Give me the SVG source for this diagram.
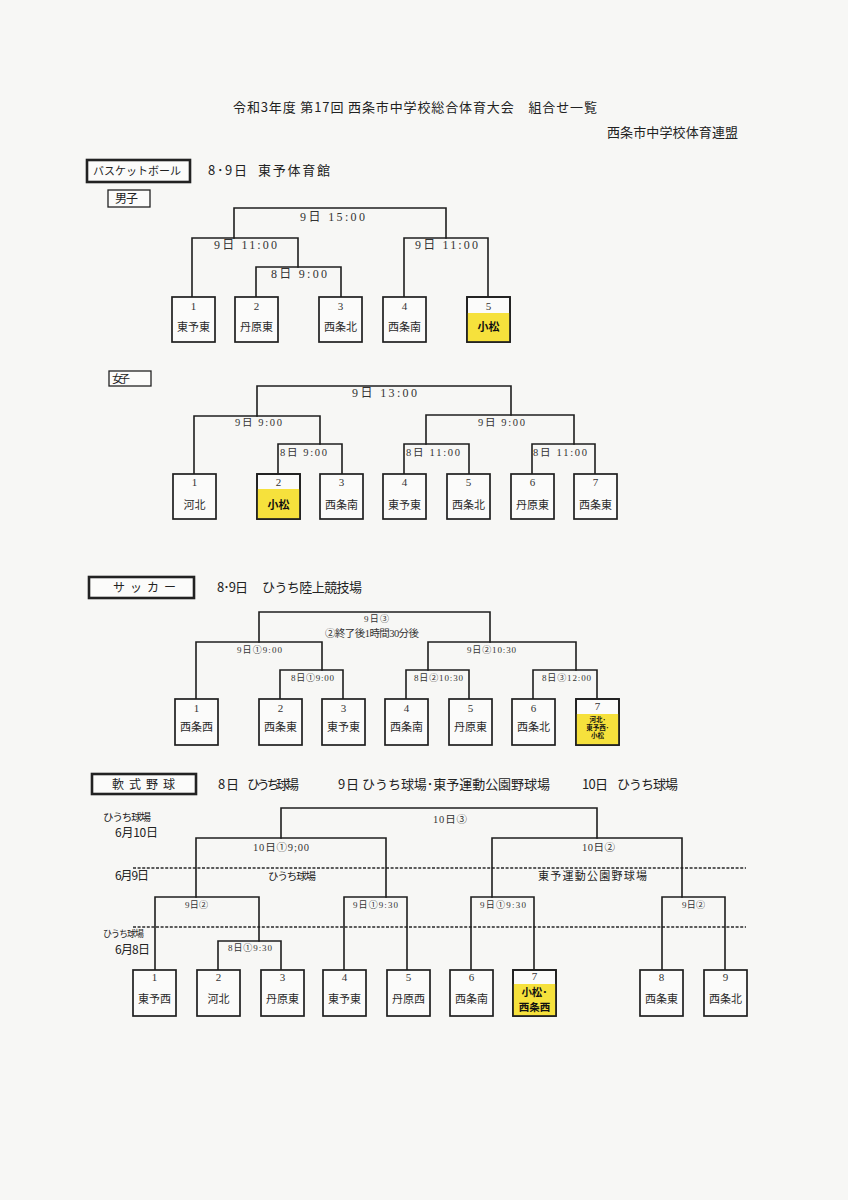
<svg xmlns="http://www.w3.org/2000/svg" width="848" height="1200" viewBox="0 0 848 1200">
<style>
.bg{fill:#f7f7f5}
.ln{fill:none;stroke:#1f1f1f;stroke-width:1.6;stroke-linecap:square}
.dash{fill:none;stroke:#2a2a2a;stroke-width:1.3;stroke-dasharray:3 1.6}
.bx{fill:#fbfbfa;stroke:#1f1f1f;stroke-width:1.7}
.bo{fill:none;stroke:#1f1f1f;stroke-width:1.7}
.yl{fill:#f6e13c}
.cat{fill:#fbfbfa;stroke:#222;stroke-width:2.6}
.sub{fill:#fbfbfa;stroke:#222;stroke-width:1.3}
.hd{font-family:"Noto Sans CJK JP",sans-serif;fill:#222}
.lb{font-family:"Liberation Serif","Noto Sans CJK JP",serif;fill:#333}
.num{font-family:"Liberation Serif","Noto Sans CJK JP",serif;font-size:11px;text-anchor:middle;fill:#333}
.nm{font-family:"Noto Sans CJK JP",sans-serif;font-size:11px;text-anchor:middle;fill:#2a2a2a}
.hl{font-weight:700;fill:#111}
.t13{font-size:13px}
.t12{font-size:12px}
.t11{font-size:11px}
.t10{font-size:10.5px}
.t9{font-size:9px}
.t7{font-size:6.5px}
</style>
<rect class="bg" x="0" y="0" width="848" height="1200"/>

<!-- Header -->
<g id="header">
<text class="hd t13" x="233" y="112" textLength="364" lengthAdjust="spacing">令和3年度 第17回 西条市中学校総合体育大会　組合せ一覧</text>
<text class="hd t13" x="607" y="137" textLength="131" lengthAdjust="spacing">西条市中学校体育連盟</text>
</g>

<!-- ===== Basketball ===== -->
<g id="cat-basketball">
<rect class="cat" x="87" y="160" width="103" height="22"/>
<text class="hd t11" x="93" y="175" textLength="88" lengthAdjust="spacing">バスケットボール</text>
<text class="hd t13" x="208" y="175" textLength="39" lengthAdjust="spacing">8･9日</text>
<text class="hd t13" x="258" y="175" textLength="72" lengthAdjust="spacing">東予体育館</text>
</g>

<g id="label-boys">
<rect class="sub" x="108" y="190" width="42" height="17"/>
<text class="hd t12" x="115" y="203" textLength="23" lengthAdjust="spacing">男子</text>
</g>

<g id="connectors">
<!-- basketball boys -->
<path class="ln" d="M234,238 V208 H446 V238"/>
<path class="ln" d="M192,297 V238 H298 V267"/>
<path class="ln" d="M256,297 V267 H341 V297"/>
<path class="ln" d="M404,297 V238 H488 V297"/>
<text class="lb t12" x="300" y="221" textLength="65" lengthAdjust="spacing">9日 15:00</text>
<text class="lb t12" x="214" y="249" textLength="63" lengthAdjust="spacing">9日 11:00</text>
<text class="lb t12" x="271" y="278" textLength="56" lengthAdjust="spacing">8日 9:00</text>
<text class="lb t12" x="415" y="249" textLength="63" lengthAdjust="spacing">9日 11:00</text>

<!-- basketball girls -->
<path class="ln" d="M257,416 V386 H511 V415"/>
<path class="ln" d="M194,474 V416 H320 V444"/>
<path class="ln" d="M278,474 V444 H342 V474"/>
<path class="ln" d="M426,444 V415 H574 V444"/>
<path class="ln" d="M404,474 V444 H469 V474"/>
<path class="ln" d="M532,474 V444 H595 V474"/>
<text class="lb t12" x="352" y="397" textLength="65" lengthAdjust="spacing">9日 13:00</text>
<text class="lb t10" x="235" y="426" textLength="47" lengthAdjust="spacing">9日 9:00</text>
<text class="lb t10" x="280" y="456" textLength="47" lengthAdjust="spacing">8日 9:00</text>
<text class="lb t10" x="478" y="426" textLength="47" lengthAdjust="spacing">9日 9:00</text>
<text class="lb t10" x="406" y="456" textLength="54" lengthAdjust="spacing">8日 11:00</text>
<text class="lb t10" x="533" y="456" textLength="54" lengthAdjust="spacing">8日 11:00</text>

<!-- soccer -->
<path class="ln" d="M259,642 V612 H490 V642"/>
<path class="ln" d="M196,699 V642 H322 V670"/>
<path class="ln" d="M280,699 V670 H343 V699"/>
<path class="ln" d="M428,670 V642 H576 V670"/>
<path class="ln" d="M406,699 V670 H469 V699"/>
<path class="ln" d="M533,699 V670 H597 V699"/>
<text class="lb t9" x="364" y="622" textLength="25" lengthAdjust="spacing">9日③</text>
<text class="lb t10" x="325" y="637" textLength="94" lengthAdjust="spacing">②終了後1時間30分後</text>
<text class="lb t9" x="237" y="653" textLength="45" lengthAdjust="spacing">9日①9:00</text>
<text class="lb t9" x="291" y="681" textLength="43" lengthAdjust="spacing">8日①9:00</text>
<text class="lb t9" x="467" y="653" textLength="49" lengthAdjust="spacing">9日②10:30</text>
<text class="lb t9" x="414" y="681" textLength="49" lengthAdjust="spacing">8日②10:30</text>
<text class="lb t9" x="542" y="681" textLength="49" lengthAdjust="spacing">8日③12:00</text>

<!-- softball -->
<path class="dash" d="M133,868 H746"/>
<path class="dash" d="M133,927 H746"/>
<path class="ln" d="M281,838 V808 H597 V838"/>
<path class="ln" d="M196,897 V838 H386 V897"/>
<path class="ln" d="M492,897 V838 H682 V897"/>
<path class="ln" d="M155,970 V897 H259 V941"/>
<path class="ln" d="M218,970 V941 H281 V970"/>
<path class="ln" d="M344,970 V897 H407 V970"/>
<path class="ln" d="M471,970 V897 H534 V970"/>
<path class="ln" d="M662,970 V897 H725 V970"/>
<text class="lb t10" x="433" y="823" textLength="34" lengthAdjust="spacing">10日③</text>
<text class="lb t10" x="253" y="851" textLength="56" lengthAdjust="spacing">10日①9;00</text>
<text class="lb t10" x="582" y="851" textLength="33" lengthAdjust="spacing">10日②</text>
<text class="lb t9" x="185" y="908" textLength="23" lengthAdjust="spacing">9日②</text>
<text class="lb t9" x="353" y="908" textLength="45" lengthAdjust="spacing">9日①9:30</text>
<text class="lb t9" x="228" y="951" textLength="44" lengthAdjust="spacing">8日①9:30</text>
<text class="lb t9" x="480" y="908" textLength="46" lengthAdjust="spacing">9日①9:30</text>
<text class="lb t9" x="682" y="908" textLength="23" lengthAdjust="spacing">9日②</text>
</g>

<!-- Boys boxes -->
<g id="bb-boys-1"><rect class="bx" x="172" y="297" width="43" height="45"/><text class="num" x="193.5" y="310">1</text><text class="nm" x="193.5" y="331">東予東</text></g>
<g id="bb-boys-2"><rect class="bx" x="235" y="297" width="43" height="45"/><text class="num" x="256.5" y="310">2</text><text class="nm" x="256.5" y="331">丹原東</text></g>
<g id="bb-boys-3"><rect class="bx" x="319" y="297" width="43" height="45"/><text class="num" x="340.5" y="310">3</text><text class="nm" x="340.5" y="331">西条北</text></g>
<g id="bb-boys-4"><rect class="bx" x="383" y="297" width="43" height="45"/><text class="num" x="404.5" y="310">4</text><text class="nm" x="404.5" y="331">西条南</text></g>
<g id="bb-boys-5"><rect class="bx" x="467" y="297" width="43" height="45"/><rect class="yl" x="467" y="313" width="43" height="29"/><rect class="bo" x="467" y="297" width="43" height="45"/><text class="num" x="488.5" y="310">5</text><text class="nm hl" x="488.5" y="331">小松</text></g>

<!-- Girls -->
<g id="label-girls">
<rect class="sub" x="109" y="371" width="42" height="15"/>
<text class="hd t11" x="112" y="383" textLength="18" lengthAdjust="spacing">女子</text>
</g>
<g id="bb-girls-1"><rect class="bx" x="173" y="474" width="43" height="45"/><text class="num" x="194.5" y="486">1</text><text class="nm" x="194.5" y="509">河北</text></g>
<g id="bb-girls-2"><rect class="bx" x="257" y="474" width="43" height="45"/><rect class="yl" x="257" y="489" width="43" height="30"/><rect class="bo" x="257" y="474" width="43" height="45"/><text class="num" x="278.5" y="486">2</text><text class="nm hl" x="278.5" y="509">小松</text></g>
<g id="bb-girls-3"><rect class="bx" x="320" y="474" width="43" height="45"/><text class="num" x="341.5" y="486">3</text><text class="nm" x="341.5" y="509">西条南</text></g>
<g id="bb-girls-4"><rect class="bx" x="383" y="474" width="43" height="45"/><text class="num" x="404.5" y="486">4</text><text class="nm" x="404.5" y="509">東予東</text></g>
<g id="bb-girls-5"><rect class="bx" x="447" y="474" width="43" height="45"/><text class="num" x="468.5" y="486">5</text><text class="nm" x="468.5" y="509">西条北</text></g>
<g id="bb-girls-6"><rect class="bx" x="511" y="474" width="43" height="45"/><text class="num" x="532.5" y="486">6</text><text class="nm" x="532.5" y="509">丹原東</text></g>
<g id="bb-girls-7"><rect class="bx" x="574" y="474" width="43" height="45"/><text class="num" x="595.5" y="486">7</text><text class="nm" x="595.5" y="509">西条東</text></g>

<!-- Soccer -->
<g id="cat-soccer">
<rect class="cat" x="89" y="577" width="105" height="21"/>
<text class="hd t12" x="113" y="592" textLength="63" lengthAdjust="spacing">サッカー</text>
<text class="hd t13" x="217" y="592" textLength="31" lengthAdjust="spacing">8･9日</text>
<text class="hd t13" x="262" y="592" textLength="100" lengthAdjust="spacing">ひうち陸上競技場</text>
</g>
<g id="sc-1"><rect class="bx" x="175" y="699" width="43" height="46"/><text class="num" x="196.5" y="712">1</text><text class="nm" x="196.5" y="731">西条西</text></g>
<g id="sc-2"><rect class="bx" x="259" y="699" width="43" height="46"/><text class="num" x="280.5" y="712">2</text><text class="nm" x="280.5" y="731">西条東</text></g>
<g id="sc-3"><rect class="bx" x="322" y="699" width="43" height="46"/><text class="num" x="343.5" y="712">3</text><text class="nm" x="343.5" y="731">東予東</text></g>
<g id="sc-4"><rect class="bx" x="385" y="699" width="43" height="46"/><text class="num" x="406.5" y="712">4</text><text class="nm" x="406.5" y="731">西条南</text></g>
<g id="sc-5"><rect class="bx" x="449" y="699" width="43" height="46"/><text class="num" x="470.5" y="712">5</text><text class="nm" x="470.5" y="731">丹原東</text></g>
<g id="sc-6"><rect class="bx" x="512" y="699" width="43" height="46"/><text class="num" x="533.5" y="712">6</text><text class="nm" x="533.5" y="731">西条北</text></g>
<g id="sc-7"><rect class="bx" x="576" y="699" width="43" height="46"/><rect class="yl" x="576" y="714" width="43" height="31"/><rect class="bo" x="576" y="699" width="43" height="46"/><text class="num" x="597.5" y="710">7</text><text class="nm hl t7" x="597.5" y="722">河北･</text><text class="nm hl t7" x="597.5" y="730">東予西･</text><text class="nm hl t7" x="597.5" y="738">小松</text></g>

<!-- Softball -->
<g id="cat-softball">
<rect class="cat" x="92" y="774" width="104" height="20"/>
<text class="hd t12" x="112" y="789" textLength="63" lengthAdjust="spacing">軟式野球</text>
<text class="hd t13" x="218" y="789" textLength="21" lengthAdjust="spacing">8日</text>
<text class="hd t13" x="247" y="789" textLength="52" lengthAdjust="spacing">ひうち球場</text>
<text class="hd t13" x="338" y="789" textLength="21" lengthAdjust="spacing">9日</text>
<text class="hd t13" x="362" y="789" textLength="188" lengthAdjust="spacing">ひうち球場･東予運動公園野球場</text>
<text class="hd t13" x="582" y="789" textLength="26" lengthAdjust="spacing">10日</text>
<text class="hd t13" x="617" y="789" textLength="61" lengthAdjust="spacing">ひうち球場</text>
</g>
<g id="sb-side-labels">
<text class="hd t10" x="103" y="821" textLength="48" lengthAdjust="spacing">ひうち球場</text>
<text class="hd t12" x="115" y="837" textLength="43" lengthAdjust="spacing">6月10日</text>
<text class="hd t12" x="115" y="880" textLength="34" lengthAdjust="spacing">6月9日</text>
<text class="hd t10" x="268" y="880" textLength="48" lengthAdjust="spacing">ひうち球場</text>
<text class="hd t11" x="538" y="880" textLength="109" lengthAdjust="spacing">東予運動公園野球場</text>
<text class="hd t9" x="103" y="937" textLength="41" lengthAdjust="spacing">ひうち球場</text>
<text class="hd t12" x="115" y="954" textLength="35" lengthAdjust="spacing">6月8日</text>
</g>
<g id="sb-1"><rect class="bx" x="133" y="970" width="43" height="46"/><text class="num" x="154.5" y="981">1</text><text class="nm" x="154.5" y="1003">東予西</text></g>
<g id="sb-2"><rect class="bx" x="197" y="970" width="43" height="46"/><text class="num" x="218.5" y="981">2</text><text class="nm" x="218.5" y="1003">河北</text></g>
<g id="sb-3"><rect class="bx" x="261" y="970" width="43" height="46"/><text class="num" x="282.5" y="981">3</text><text class="nm" x="282.5" y="1003">丹原東</text></g>
<g id="sb-4"><rect class="bx" x="323" y="970" width="43" height="46"/><text class="num" x="344.5" y="981">4</text><text class="nm" x="344.5" y="1003">東予東</text></g>
<g id="sb-5"><rect class="bx" x="387" y="970" width="43" height="46"/><text class="num" x="408.5" y="981">5</text><text class="nm" x="408.5" y="1003">丹原西</text></g>
<g id="sb-6"><rect class="bx" x="450" y="970" width="43" height="46"/><text class="num" x="471.5" y="981">6</text><text class="nm" x="471.5" y="1003">西条南</text></g>
<g id="sb-7"><rect class="bx" x="513" y="970" width="43" height="46"/><rect class="yl" x="513" y="984" width="43" height="32"/><rect class="bo" x="513" y="970" width="43" height="46"/><text class="num" x="534.5" y="980">7</text><text class="nm hl t10" x="534.5" y="996">小松･</text><text class="nm hl t10" x="534.5" y="1011">西条西</text></g>
<g id="sb-8"><rect class="bx" x="640" y="970" width="43" height="46"/><text class="num" x="661.5" y="981">8</text><text class="nm" x="661.5" y="1003">西条東</text></g>
<g id="sb-9"><rect class="bx" x="704" y="970" width="43" height="46"/><text class="num" x="725.5" y="981">9</text><text class="nm" x="725.5" y="1003">西条北</text></g>
</svg>
